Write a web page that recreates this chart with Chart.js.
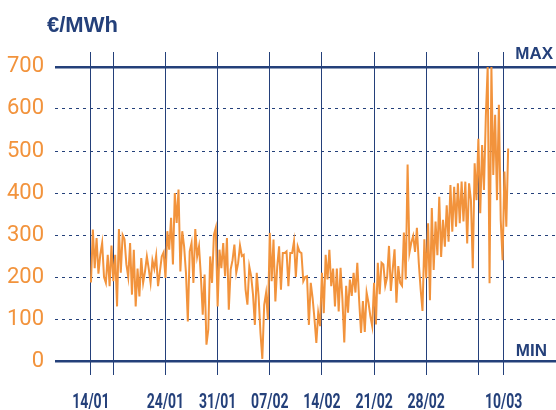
<!DOCTYPE html>
<html>
<head>
<meta charset="utf-8">
<script src="https://cdn.jsdelivr.net/npm/chart.js@4"></script>
<style>
  html, body { margin: 0; padding: 0; background: #fff; }
  #wrap { width: 556px; height: 410px; }
</style>
</head>
<body>
<div id="wrap"><canvas id="priceChart" width="556" height="410"></canvas></div>
<script>
// day prices, 4 readings per day, from 14/01 to 10/03
const pointsPerDay = 4;
const prices = [
  187, 313, 221, 293,  208, 253, 281, 200,  186, 253, 178, 275,  190, 253, 130, 314,
  210, 300, 290, 230,  200, 281, 158, 265,  130, 220, 154, 245,  186, 213, 249, 220,
  186, 240, 220, 251,  178, 213, 249, 259,  198, 309, 265, 341,  230, 400, 329, 408,
  213, 309, 273, 210,   94, 261, 281, 186,  314, 249, 273, 202,  110, 206,  39,  75,
  249, 186, 300, 317,  130, 265, 221, 281,  202, 293, 122, 218,  240, 277, 210, 233,
  275, 250, 253, 170,  134, 225, 202, 158,   86, 210, 154,  67,    5, 134, 162,  98,
  305, 190, 289, 142,  225, 273, 170, 257,  257, 261, 178, 257,  257, 285, 200, 273,
  260, 257, 190, 200,  202,  86, 186, 150,  100,  43, 114,  83,  210, 114, 253, 194,
  265, 178, 220, 130,  220, 118, 222, 147,   44, 179, 115, 194,  155, 210, 163, 234,
  143,  67, 143,  69,  163, 139, 107,  83,  186,  87, 234, 159,  234, 230, 179, 199,
  274, 167, 218, 266,  139, 226, 186, 179,  306, 194, 468, 258,  282, 298, 260, 317,
  234, 171, 119, 290,  197, 328, 145, 364,  217, 332, 252, 391,  248, 336, 272, 371,
  284, 419, 308, 415,  320, 423, 328, 427,  332, 427, 280, 423,  383, 221, 471, 383,
  529, 352, 514, 407,  582, 700, 185, 700,  443, 586, 383, 610,  336, 240, 451, 320,
  506
];

// vertical lines (days after 14/01) and their labels
const gridDays = [0, 3, 10, 17, 24, 31, 38, 45, 52, 55.4];
const gridLabels = ['14/01', '', '24/01', '31/01', '07/02', '14/02', '21/02', '28/02', '', '10/03'];
const yTicks = [0, 100, 200, 300, 400, 500, 600, 700];
const minValue = 0;
const maxValue = 700;
const titleText = '€/MWh';

const navy = '#24407a';
const orange = '#f2933c';

// title, MAX / MIN tags and the narrow date labels under the x axis
const textPlugin = {
  id: 'textPlugin',
  afterDraw(chart) {
    const { ctx, chartArea, scales: { x, y } } = chart;
    ctx.save();
    ctx.fillStyle = navy;
    ctx.textBaseline = 'alphabetic';
    ctx.font = 'bold 22px "Liberation Sans", Arial, sans-serif';
    ctx.textAlign = 'left';
    ctx.fillText(titleText, 47, 32);
    ctx.font = 'bold 17px "Liberation Sans", Arial, sans-serif';
    ctx.textAlign = 'right';
    ctx.fillText('MAX', chartArea.right - 3, y.getPixelForValue(maxValue) - 8);
    ctx.fillText('MIN', chartArea.right - 9, y.getPixelForValue(minValue) - 5);

    ctx.font = 'bold 20px Roboto, sans-serif';
    ctx.textAlign = 'center';
    gridDays.forEach((d, i) => {
      if (!gridLabels[i]) return;
      ctx.save();
      ctx.translate(x.getPixelForValue(d), chartArea.bottom + 33);
      ctx.scale(0.7, 1);
      ctx.fillText(gridLabels[i], 0, 0);
      ctx.restore();
    });
    ctx.restore();
  }
};

const isEdge = v => v === minValue || v === maxValue;

new Chart(document.getElementById('priceChart'), {
  type: 'line',
  data: {
    datasets: [{
      data: prices.map((v, i) => ({ x: i / pointsPerDay, y: v })),
      borderColor: orange,
      borderWidth: 2,
      pointRadius: 0,
      tension: 0,
      fill: false
    }]
  },
  options: {
    responsive: false,
    animation: false,
    layout: { padding: { top: 52, left: 0, right: 0, bottom: 0 } },
    plugins: { legend: { display: false }, tooltip: { enabled: false } },
    scales: {
      x: {
        type: 'linear',
        min: -4.83,
        max: 62.42,
        afterBuildTicks: scale => { scale.ticks = gridDays.map(v => ({ value: v })); },
        afterFit: scale => { scale.height = 35; },
        grid: { color: navy, lineWidth: 1, drawTicks: false },
        border: { display: false, dash: [] },
        ticks: { display: false }
      },
      y: {
        min: -33.3,
        max: 735.7,
        afterBuildTicks: scale => { scale.ticks = yTicks.map(v => ({ value: v })); },
        afterFit: scale => { scale.width = 55; },
        grid: {
          color: navy,
          lineWidth: ctx => (ctx.tick && isEdge(ctx.tick.value)) ? 2.5 : 1,
          drawTicks: false
        },
        border: {
          display: false,
          dash: ctx => (ctx.tick && isEdge(ctx.tick.value)) ? [] : [3, 4]
        },
        ticks: {
          padding: 11,
          color: orange,
          font: { family: 'Roboto, sans-serif', size: 22 }
        }
      }
    }
  },
  plugins: [textPlugin]
});
</script>
</body>
</html>
